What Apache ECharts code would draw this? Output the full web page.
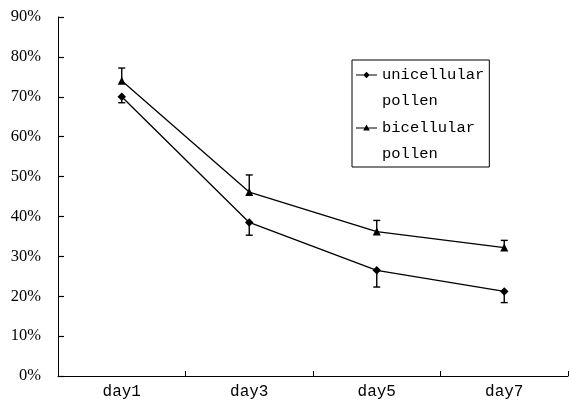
<!DOCTYPE html>
<html>
<head>
<meta charset="utf-8">
<script src="https://cdn.jsdelivr.net/npm/echarts@6/dist/echarts.min.js"></script>
<style>
html,body{margin:0;padding:0;background:#fff;}
#chart{width:569px;height:401px;}
</style>
</head>
<body>
<div id="chart"></div>
<script>
const categories = ['day1', 'day3', 'day5', 'day7'];
const seriesNames = ['unicellular pollen', 'bicellular pollen'];
const unicellular = [70, 38.5, 26.5, 21.2];
const unicellularErr = [1.5, 3.2, 4.2, 2.8];   // drawn downward
const bicellular = [74, 46.1, 36.2, 32.2];
const bicellularErr = [3.2, 4.3, 2.8, 1.8];    // drawn upward
const yTicks = [0, 10, 20, 30, 40, 50, 60, 70, 80, 90];

const uniIcon = 'path://M0 0M0 12.4L21 12.4L21 13.6L0 13.6ZM10.5 9.8L13.7 13L10.5 16.2L7.3 13ZM21 52';
const biIcon = 'path://M0 0M0 12.4L21 12.4L21 13.6L0 13.6ZM10.5 9.6L13.8 15.4L7.2 15.4ZM21 52';

function errData(vals, errs, dir) {
  return vals.map((v, i) => [i, v, v + dir * errs[i]]);
}

function renderErr(params, api) {
  const x = api.value(0);
  const p0 = api.coord([x, api.value(1)]);
  const p1 = api.coord([x, api.value(2)]);
  const w = 3.5;
  return {
    type: 'group',
    children: [
      {type: 'line', shape: {x1: p0[0], y1: p0[1], x2: p1[0], y2: p1[1]}, style: {stroke: '#000', lineWidth: 1.4}},
      {type: 'line', shape: {x1: p1[0] - w, y1: p1[1], x2: p1[0] + w, y2: p1[1]}, style: {stroke: '#000', lineWidth: 1.4}}
    ]
  };
}

const chart = echarts.init(document.getElementById('chart'));
chart.setOption({
  animation: false,
  backgroundColor: '#fff',
  grid: {left: 58, right: 1, top: 17, bottom: 25, containLabel: false},
  legend: {
    left: 352, top: 60,
    orient: 'vertical',
    data: [
      {name: seriesNames[0], icon: uniIcon},
      {name: seriesNames[1], icon: biIcon}
    ],
    itemWidth: 21, itemHeight: 52, itemGap: 1,
    symbolKeepAspect: false,
    padding: [2, 5, 0, 4],
    borderColor: '#000', borderWidth: 1, borderRadius: 0,
    backgroundColor: '#fff',
    itemStyle: {borderWidth: 0},
    formatter: name => name.replace(' ', '\n'),
    textStyle: {fontFamily: 'Liberation Mono', fontSize: 15.5, lineHeight: 26, color: '#000'}
  },
  xAxis: {
    type: 'category',
    data: categories,
    boundaryGap: true,
    axisLine: {lineStyle: {color: '#000', width: 1}},
    axisTick: {show: true, inside: true, length: 5, lineStyle: {color: '#000', width: 1}},
    axisLabel: {color: '#000', fontFamily: 'Liberation Mono', fontSize: 16, margin: 8},
    splitLine: {show: false}
  },
  yAxis: {
    type: 'value',
    min: yTicks[0], max: yTicks[yTicks.length - 1], interval: 10,
    axisLine: {show: true, lineStyle: {color: '#000', width: 1}},
    axisTick: {show: true, inside: true, length: 6, lineStyle: {color: '#000', width: 1.2}},
    axisLabel: {color: '#000', fontFamily: 'Liberation Serif', fontSize: 16.5, margin: 17, formatter: '{value}%'},
    splitLine: {show: false}
  },
  series: [
    {
      name: seriesNames[0], type: 'line', data: unicellular,
      symbol: 'diamond', symbolSize: 8.5, color: '#000',
      lineStyle: {color: '#000', width: 1.3}, itemStyle: {color: '#000'}, z: 3
    },
    {
      name: seriesNames[1], type: 'line', data: bicellular,
      symbol: 'triangle', symbolSize: 8, color: '#000',
      lineStyle: {color: '#000', width: 1.3}, itemStyle: {color: '#000'}, z: 3
    },
    {type: 'custom', renderItem: renderErr, data: errData(unicellular, unicellularErr, -1), z: 1, silent: true},
    {type: 'custom', renderItem: renderErr, data: errData(bicellular, bicellularErr, 1), z: 1, silent: true}
  ]
});
</script>
</body>
</html>
